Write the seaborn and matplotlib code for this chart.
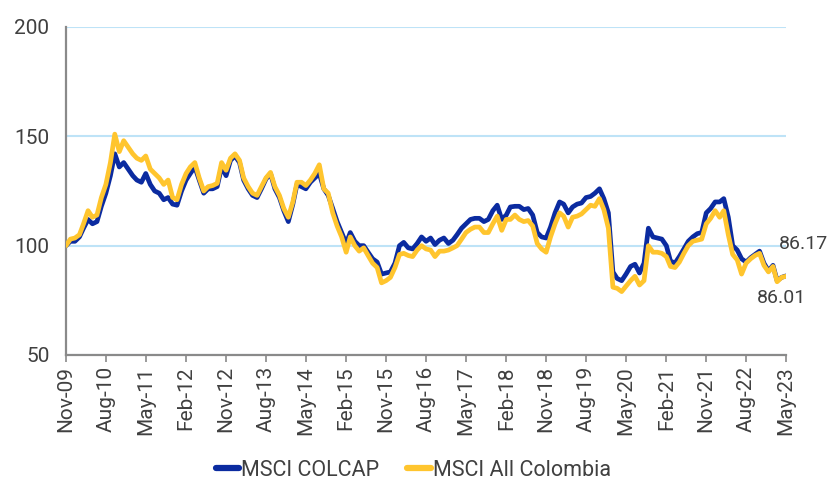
import matplotlib
matplotlib.use("Agg")
import matplotlib.pyplot as plt
from matplotlib.lines import Line2D
import seaborn as sns
import pandas as pd

# Monthly index levels (base 100 = Nov-09)
start_month = "2009-11-01"

colcap = [
    100, 102, 102, 104, 108, 112, 110, 111, 118, 124, 132, 142, 136, 138, 135,
    132, 130, 129, 133, 128, 125, 124, 121, 122, 119, 118.5, 125,
    130, 133, 136, 130, 124, 126, 126, 127, 136, 132, 139, 141, 138, 130, 126,
    123, 122, 126, 130.5, 133, 126, 122, 116, 111, 119, 128, 127,
    126, 129, 131, 133, 126, 123, 117, 111, 106, 101, 106, 102, 100, 100, 97,
    94, 92.5, 87, 87.5, 88, 92, 100, 101.5, 99, 98.5, 101, 104,
    102, 103.5, 100.5, 102.5, 103.5, 101, 102.5, 105, 108, 110, 112, 112.5,
    112.5, 111, 112, 116, 118.5, 112, 114, 117.7, 118, 118, 116.5, 117, 114,
    106, 104,
    103.5, 108.5, 115, 120, 119, 115, 117.7, 119, 119.5, 122, 122.5, 124, 126,
    121.5, 115, 88, 85, 84, 87, 90.5, 91.5, 87.5, 92, 108, 104, 103.5, 103,
    100, 93, 92, 95, 98.5, 102, 104, 105.5, 106, 115, 117, 120, 120, 121.5,
    113, 100, 98, 94, 92.5, 94.5, 96, 97.5, 92, 88.5, 91, 84, 85.5, 86.17,
]

all_colombia = [
    100, 103, 103.5, 105, 110, 116, 113, 114, 122, 128, 138, 151, 143, 148, 145,
    142, 140, 139, 141, 135, 133, 131, 128, 130, 122, 121, 128,
    133, 136, 138, 131, 125, 127, 127.5, 128.5, 138, 134.5, 140, 142, 139, 131,
    127, 124, 123, 127, 131, 133.5, 127, 123, 117, 113, 120, 129, 129,
    127.5, 130, 133, 137, 126, 124, 115, 109, 104, 97, 104, 100, 97.5, 99, 95.5,
    92, 90, 83, 84, 85.5, 90, 96, 96.5, 95.5, 95, 98, 100,
    98.5, 98, 95, 97.5, 97.5, 98, 99, 100, 103, 106, 107.5, 108.5, 108.5, 106,
    106, 110, 113.5, 107, 112, 112, 114, 112, 111, 111.5, 109, 101, 98.5,
    97, 104, 110, 115, 113.5, 108.5, 113, 113.5, 114.5, 116.5, 118.5, 118,
    121.5, 116.5, 108, 81, 80.5, 79, 81.5, 84, 86, 82, 84, 100, 97, 97, 96.5,
    95, 90.5, 90, 92.5, 96.5, 100, 102, 102.5, 103, 110, 112.5, 116, 113, 116,
    105, 96, 93.5, 87, 92, 94, 95.5, 96.5, 91, 88, 90.5, 83.5, 85.5, 86.01,
]

series_names = ["MSCI COLCAP", "MSCI All Colombia"]
tick_labels = ["Nov-09", "Aug-10", "May-11", "Feb-12", "Nov-12", "Aug-13",
               "May-14", "Feb-15", "Nov-15", "Aug-16", "May-17", "Feb-18",
               "Nov-18", "Aug-19", "May-20", "Feb-21", "Nov-21", "Aug-22",
               "May-23"]
y_ticks = [50, 100, 150, 200]
last_labels = ["86.17", "86.01"]

dates = pd.date_range(start_month, periods=len(colcap), freq="MS")
df = pd.DataFrame({
    "Fecha": list(dates) + list(dates),
    "Valor": colcap + all_colombia,
    "Serie": [series_names[0]] * len(colcap) + [series_names[1]] * len(all_colombia),
})

sns.set_theme(style="white")
plt.rcParams["font.family"] = ["Roboto", "DejaVu Sans"]

blue = "#0B2BA0"
yellow = "#FFC52E"
text_color = "#404040"
axis_gray = "#8A8A8A"

fig = plt.figure(figsize=(8.27, 4.80), dpi=100)
ax = fig.add_axes([66 / 827, 1 - 355 / 480, 720 / 827, 328 / 480])

sns.lineplot(data=df, x="Fecha", y="Valor", hue="Serie",
             hue_order=series_names,
             palette={series_names[0]: blue, series_names[1]: yellow},
             linewidth=3.4, ax=ax, legend=False, zorder=3)

ax.set_xlim(dates[0], dates[-1])
ax.set_ylim(y_ticks[0], y_ticks[-1])
ax.set_yticks(y_ticks)
ax.yaxis.grid(True, color="#BEE3F7", linewidth=1.5)
ax.xaxis.grid(False)
ax.set_axisbelow(True)

tick_pos = pd.date_range(start_month, periods=len(tick_labels), freq="9MS")
ax.set_xticks(tick_pos)
ax.set_xticklabels(tick_labels, rotation=90)

ax.set_xlabel("")
ax.set_ylabel("")
for side in ["top", "right"]:
    ax.spines[side].set_visible(False)
for side in ["left", "bottom"]:
    ax.spines[side].set_color(axis_gray)
    ax.spines[side].set_linewidth(1.6)

ax.tick_params(axis="x", bottom=True, length=5, width=1.2, color=axis_gray,
               labelsize=15, labelcolor=text_color, pad=3)
ax.tick_params(axis="y", left=False, length=0, labelsize=15,
               labelcolor=text_color, pad=12)

ax.annotate(last_labels[0], xy=(dates[-1], colcap[-1]), xytext=(-7, 32),
            textcoords="offset pixels", ha="left", va="center",
            fontsize=14, color=text_color, annotation_clip=False)
ax.annotate(last_labels[1], xy=(dates[-1], all_colombia[-1]), xytext=(-5, -22),
            textcoords="offset pixels", ha="center", va="center",
            fontsize=14, color=text_color, annotation_clip=False)

handles = [Line2D([0], [0], color=blue, linewidth=4.5),
           Line2D([0], [0], color=yellow, linewidth=4.5)]
fig.legend(handles, series_names, loc="center", bbox_to_anchor=(0.5, 10 / 480),
           ncol=2, frameon=False, fontsize=15.5, handlelength=1.1,
           handletextpad=0.1, columnspacing=1.3, labelcolor=text_color)

fig.savefig("out.png", dpi=100)
